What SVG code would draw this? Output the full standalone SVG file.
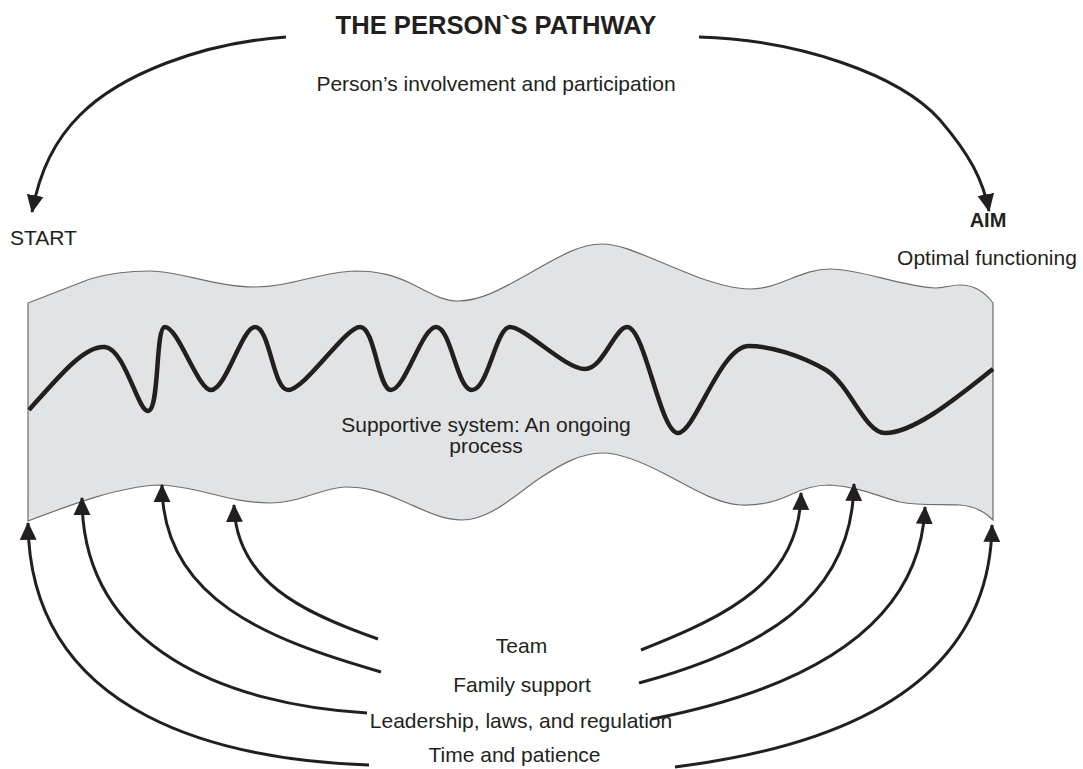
<svg xmlns="http://www.w3.org/2000/svg" width="1083" height="769" viewBox="0 0 1083 769">
<style>
  text { font-family: "Liberation Sans", Arial, sans-serif; fill: #231f20; }
  .t21 { font-size: 21px; }
  .mid { text-anchor: middle; }
  .conn { fill: none; stroke: #231f20; stroke-width: 3; marker-end: url(#ah); }
  .band { fill: #e2e3e5; stroke: #6d6e70; stroke-width: 1.2; }
  .wave { fill: none; stroke: #231f20; stroke-width: 4.5; stroke-linejoin: round; stroke-linecap: butt; }
</style>
<defs>
  <marker id="ah" markerUnits="userSpaceOnUse" markerWidth="18" markerHeight="18" viewBox="0 0 16 16" refX="15" refY="8" orient="auto">
    <path d="M0,0.5 L16,8 L0,15.5 z" fill="#231f20"/>
  </marker>
</defs>
<rect width="1083" height="769" fill="#ffffff"/>

<g id="band">
  <path class="band" d="M28,303 L90,279 C110,273 130,271 150,271 C180,271 215,287 255,287 C290,287 320,272 355,271 C380,271 395,276 410,283 C430,293 442,301 458,301 C480,301 500,290 530,273 C560,256 580,244 602,244 C625,244 650,259 700,278 C720,285 735,289 750,289 C780,289 800,269 830,269 C860,269 900,286 935,288 C945,288 950,285 960,285 C975,285 985,292 993,303 L993,520 C985,512 975,506 960,505 C940,504 920,506 900,502 C880,497 860,487 830,485 C812,485 800,490 790,495 C775,502 760,506 740,505 C715,503 690,487 665,474 C640,461 620,453 603,453 C580,453 560,465 540,478 C515,495 490,520 462,520 C440,520 420,508 400,500 C380,491 365,487 345,487 C325,487 300,503 270,503 C240,503 215,494 195,490 C180,487 170,485 160,485 C120,486 70,505 28,521 Z"/>
</g>

<g id="wave">
  <path class="wave" d="M29,410 C60,375 85,345 105,347 C125,349 138,412 148,411 C160,410 155,327 165,327 C178,327 198,390 211,390 C226,390 242,327 255,327 C270,327 273,390 288,390 C305,390 345,327 360,327 C375,327 378,390 391,390 C405,390 422,327 436,327 C451,327 457,390 472,390 C488,390 496,327 510,327 C525,327 565,369 585,369 C603,369 615,327 627,327 C645,327 660,433 678,433 C695,433 720,346 749,346 C770,346 800,355 826,370 C850,385 865,433 885,433 C915,433 960,395 993,369"/>
</g>

<g id="title"><text x="496" y="34" class="mid" style="font-size:25.6px;font-weight:bold">THE PERSON`S PATHWAY</text></g>
<g id="subtitle"><text x="496" y="91" class="t21 mid">Person’s involvement and participation</text></g>
<g id="start"><text x="10" y="245" class="t21">START</text></g>
<g id="aim">
  <text x="988" y="227" class="mid" style="font-size:20px;font-weight:bold">AIM</text>
  <text x="987" y="265" class="t21 mid">Optimal functioning</text>
</g>
<g id="supportive">
  <text x="486" y="432" class="t21 mid">Supportive system: An ongoing</text>
  <text x="486" y="453" class="t21 mid">process</text>
</g>
<g id="team"><text x="521.5" y="653" class="t21 mid">Team</text></g>
<g id="family"><text x="522" y="692" class="t21 mid">Family support</text></g>
<g id="leadership"><text x="521" y="728" class="t21 mid">Leadership, laws, and regulation</text></g>
<g id="time"><text x="514.5" y="762" class="t21 mid">Time and patience</text></g>

<g id="connectors">
  <path class="conn" d="M286,37 C200,43 120,75 80,115 C55,140 40,170 32,212"/>
  <path class="conn" d="M699,37 C800,40 900,75 940,120 C970,155 983,180 989,211"/>
  <!-- left side -->
  <path class="conn" d="M369,765 C230,760 30,720 28,523"/>
  <path class="conn" d="M367,713 C230,705 82,650 82,498"/>
  <path class="conn" d="M381,672 C270,640 162,600 162,485"/>
  <path class="conn" d="M378,639 C300,612 236,580 234,505"/>
  <!-- right side -->
  <path class="conn" d="M641,650 C730,615 800,580 801,493"/>
  <path class="conn" d="M639,683 C760,650 852,600 854,484"/>
  <path class="conn" d="M652,719 C800,690 920,630 925,507"/>
  <path class="conn" d="M675,767 C850,745 990,680 992,525"/>
</g>
</svg>
